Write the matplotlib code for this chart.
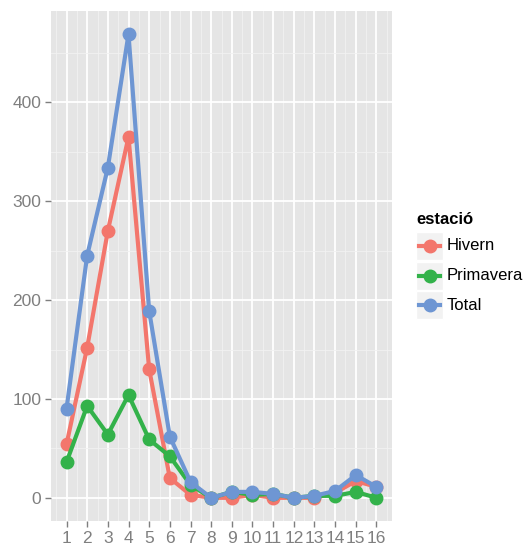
import numpy as np
import matplotlib
matplotlib.use("Agg")
from matplotlib import pyplot as plt
from matplotlib.lines import Line2D
from matplotlib.patches import Rectangle

## Data ##
mesos = list(range(1, 17))
hivern = [54, 152, 270, 365, 130, 20, 3, 0, 0, 3, 0, 0, 0, 5, 17, 11]
primavera = [36, 93, 64, 104, 59, 42, 13, 0, 6, 3, 4, 0, 2, 2, 6, 0]
total = [90, 245, 334, 469, 189, 62, 16, 0, 6, 6, 4, 0, 2, 7, 23, 11]
series_names = ["Hivern", "Primavera", "Total"]
colors = ["#F3766C", "#33B24A", "#6E96D3"]
y_ticks = [0, 100, 200, 300, 400]

plt.rcParams['font.family'] = ['Liberation Sans', 'DejaVu Sans']

W, H = 524, 546
fig = plt.figure(figsize=(W / 100, H / 100), dpi=100)
# panel box in pixels
left, right, top, bottom = 51, 392, 11, 521
ax = fig.add_axes([left / W, 1 - bottom / H, (right - left) / W, (bottom - top) / H])
ax.set_facecolor("#E5E5E5")
for s in ax.spines.values():
    s.set_visible(False)

# grid
ax.set_xticks(mesos)
ax.set_xticks(np.arange(0.5, 17, 1), minor=True)
ax.set_yticks(y_ticks)
ax.set_yticks(np.arange(50, 500, 100), minor=True)
ax.grid(which="major", color="white", lw=1.3)
ax.grid(which="minor", color="#F2F2F2", lw=0.6)
ax.set_axisbelow(True)

for vals, c in zip([hivern, primavera, total], colors):
    ax.plot(mesos, vals, color=c, lw=3, marker="o", ms=9, solid_capstyle="round",
            zorder=3)

ax.set_xlim(0.25, 16.75)
ax.set_ylim(-23.45, 492.45)
ax.tick_params(which="minor", length=0)
ax.tick_params(which="major", length=4, width=1, color="#7F7F7F",
               labelcolor="#7F7F7F", labelsize=12.5, pad=3)

# legend
fig.text(416 / W, 1 - 220 / H, "estació", fontsize=12, fontweight="bold",
         va="center", ha="left")
key_y = [246, 276, 305]
for name, c, ky in zip(series_names, colors, key_y):
    fig.patches.append(Rectangle(((416) / W, 1 - (ky + 14) / H), 27 / W, 28 / H,
                                 transform=fig.transFigure, facecolor="#F2F2F2",
                                 edgecolor="white", lw=1, zorder=1))
    fig.lines.append(Line2D([419 / W, 440 / W], [1 - ky / H, 1 - ky / H],
                            transform=fig.transFigure, color=c, lw=3,
                            marker=None, zorder=2))
    fig.lines.append(Line2D([429.5 / W], [1 - ky / H], transform=fig.transFigure,
                            color=c, marker="o", ms=9, zorder=3))
    fig.text(447 / W, 1 - ky / H, name, fontsize=12, va="center", ha="left")

fig.savefig("out.png", dpi=100)
